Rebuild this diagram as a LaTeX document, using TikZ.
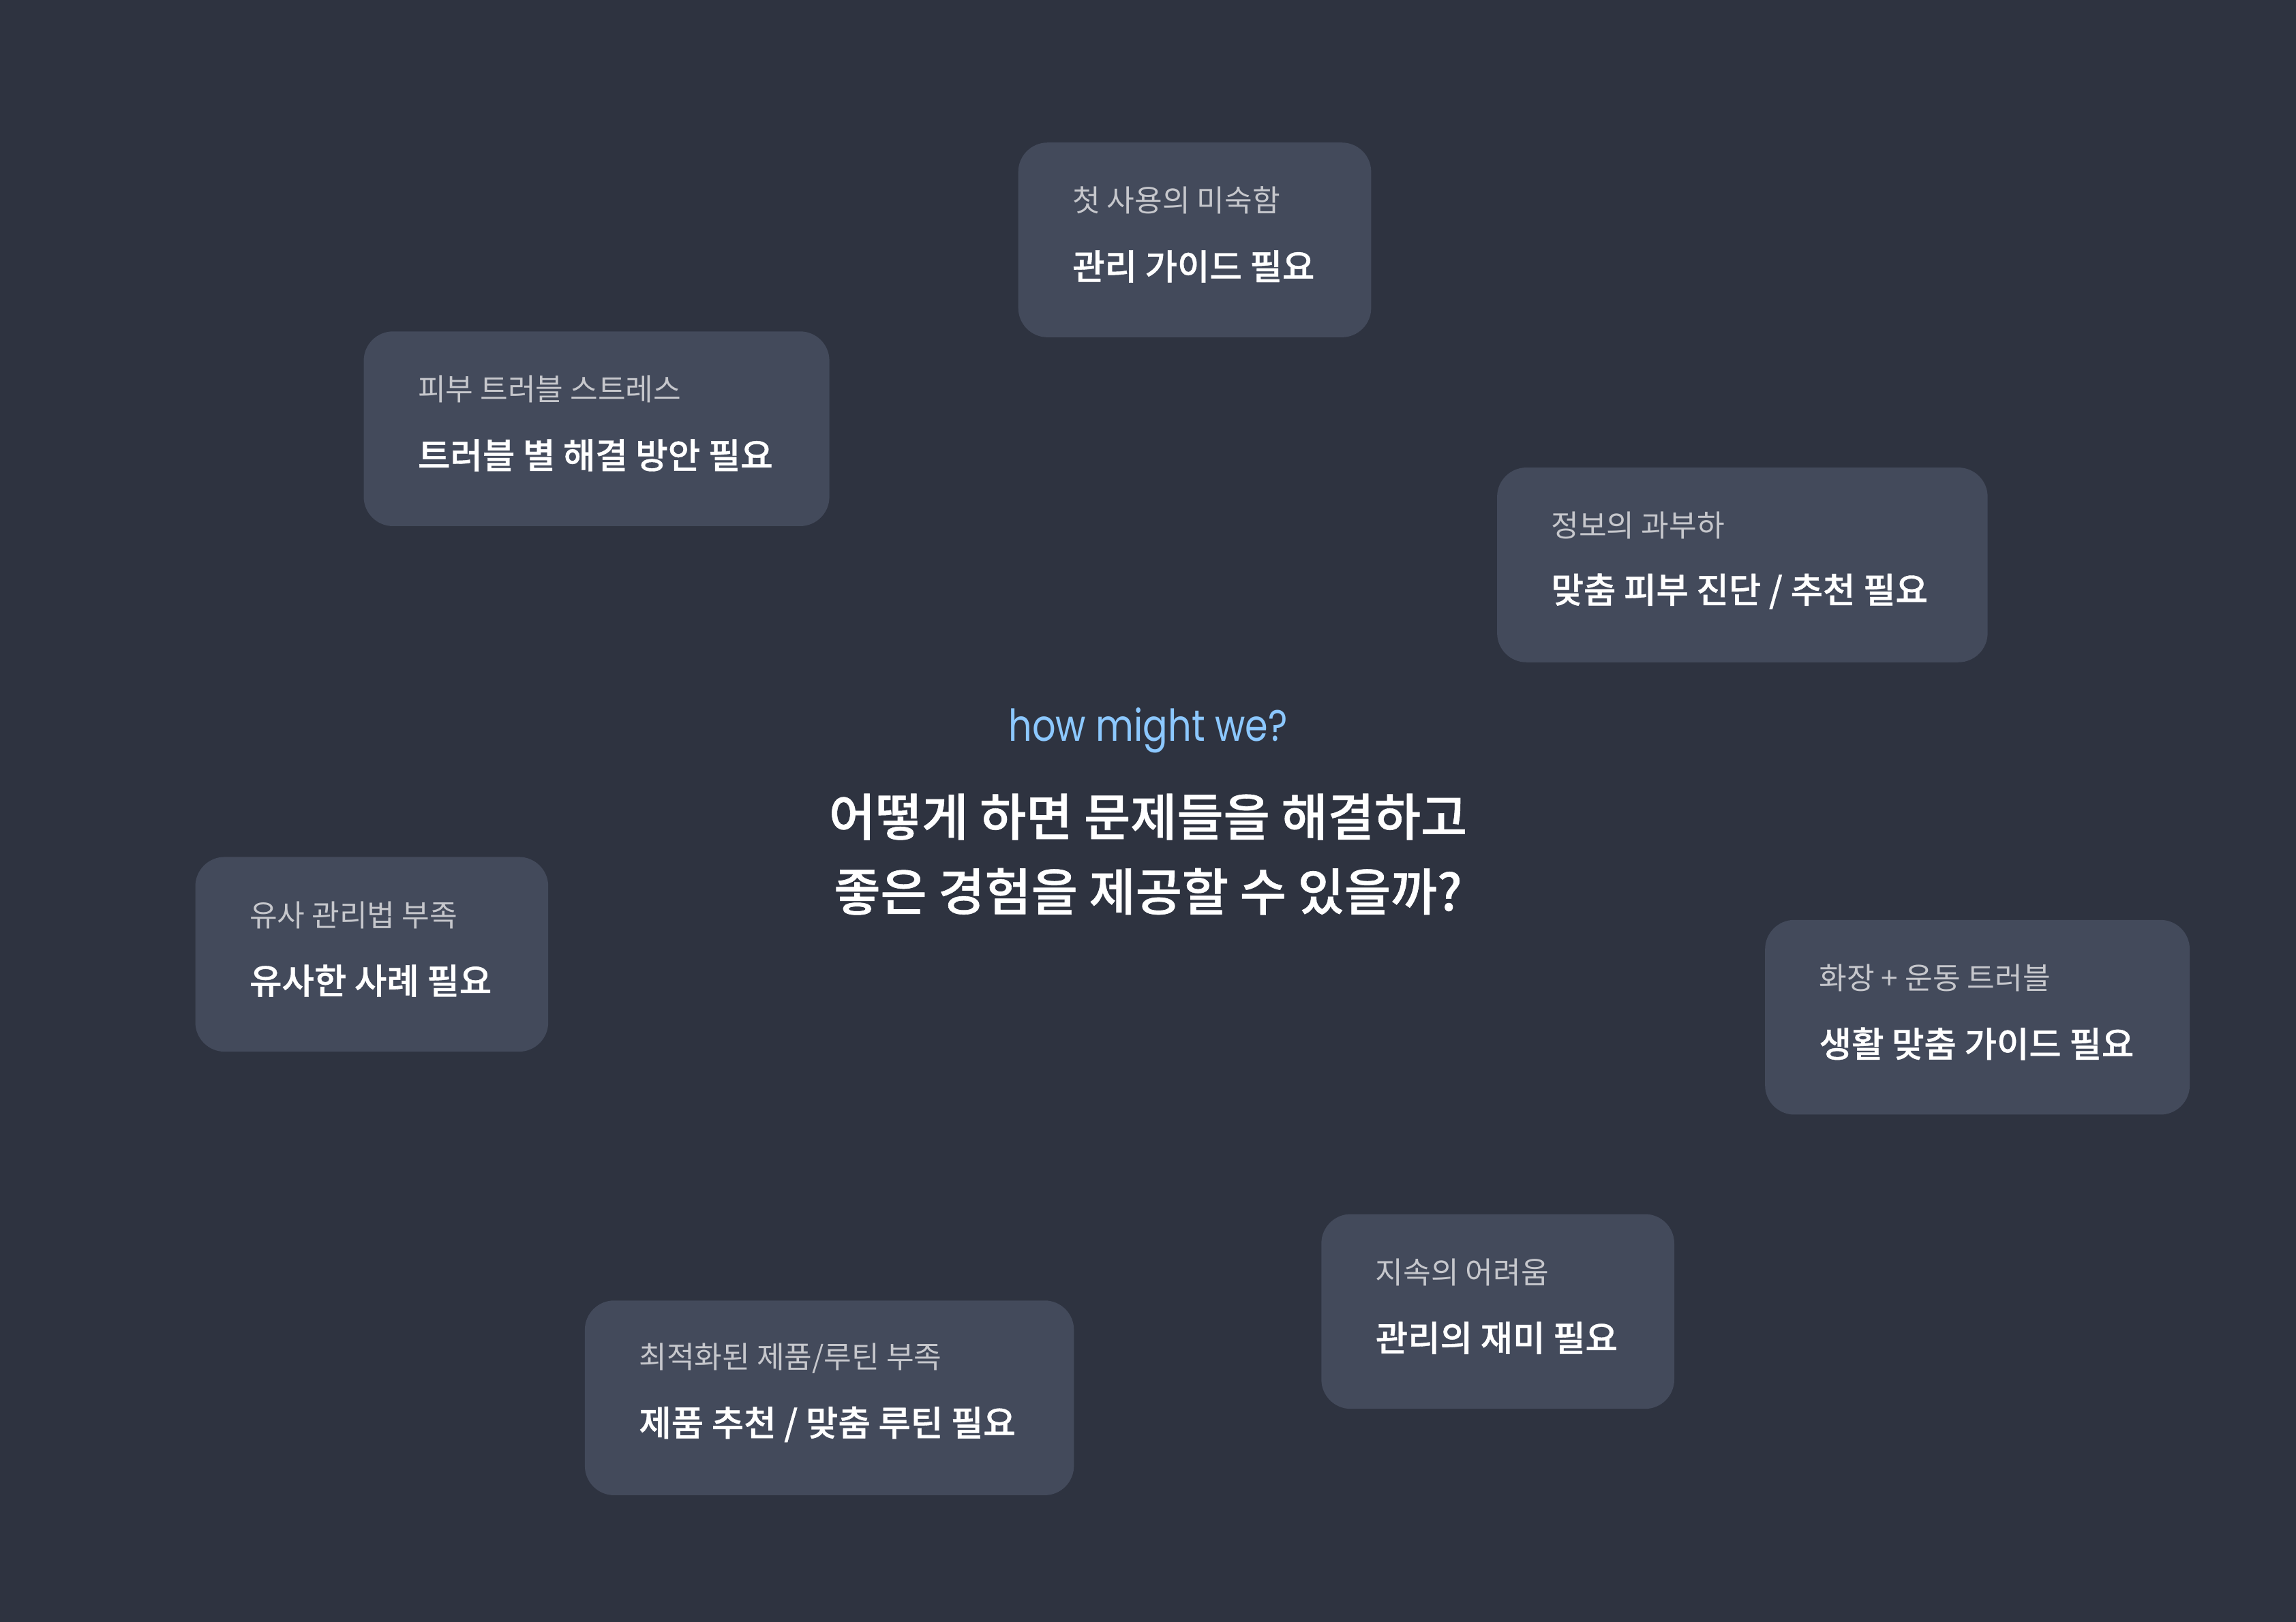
\documentclass[tikz,border=0pt]{standalone}
\usepackage{fontspec}
\setmainfont{Noto Sans CJK KR}
\newfontfamily\krsub{Noto Sans CJK KR}
\newfontfamily\krbold{Noto Sans CJK KR Medium}[FakeBold=0.8]
\newfontfamily\krmain{Noto Sans CJK KR Medium}[FakeBold=0.8]
\newfontfamily\hmwfont{Poppins}[FakeStretch=0.84]
\definecolor{bgc}{RGB}{46,51,64}
\definecolor{cardc}{RGB}{67,74,91}
\definecolor{subc}{RGB}{198,199,204}
\definecolor{hmwc}{RGB}{140,200,255}
\tikzset{
  cardbox/.style={rectangle, fill=cardc, draw=none, rounded corners=10pt,
    minimum height=66.5pt, inner sep=0pt},
  subtxt/.style={text=subc, font=\krsub\fontsize{10.3pt}{12pt}\selectfont, inner sep=0pt},
  boldtxt/.style={text=white, font=\krbold\fontsize{12pt}{14pt}\selectfont, inner sep=0pt},
  maintxt/.style={text=white, font=\krmain\fontsize{17.25pt}{20pt}\selectfont, inner sep=0pt},
  hmwtxt/.style={text=hmwc, font=\hmwfont\fontsize{15pt}{18pt}\selectfont, inner sep=0pt}
}
\newcommand\mycard[6]{%
  \node[cardbox, minimum width=#4*0.5pt, anchor=north west] (#1) at (#2,#3) {};
  \node[subtxt, anchor=west] (#1s) at ([shift={(37,40)}]#1.north west) {#5};
  \node[boldtxt, anchor=west] (#1b) at ([shift={(37,85)}]#1.north west) {#6};
}
\begin{document}
\begin{tikzpicture}[x=0.5pt,y=-0.5pt]
\useasboundingbox (0,0) rectangle (1568,1108);
\fill[bgc] (0,0) rectangle (1568,1108);
\mycard{c1}{695}{97}{241}{첫 사용의 미숙함}{관리 가이드 필요}
\mycard{c2}{248}{226}{318}{피부 트러블 스트레스}{트러블 별 해결 방안 필요}
\mycard{c3}{1022}{319}{335}{정보의 과부하}{맞춤 피부 진단 / 추천 필요}
\mycard{c4}{133}{585}{241}{유사 관리법 부족}{유사한 사례 필요}
\mycard{c5}{1205}{628}{290}{화장 + 운동 트러블}{생활 맞춤 가이드 필요}
\mycard{c6}{902}{829}{241}{지속의 어려움}{관리의 재미 필요}
\mycard{c7}{399}{888}{334}{최적화된 제품/루틴 부족}{제품 추천 / 맞춤 루틴 필요}
\node[hmwtxt] (hmw) at (784,499) {how might we?};
\node[maintxt] (q1) at (784,558) {어떻게 하면 문제들을 해결하고};
\node[maintxt] (q2) at (784,609) {좋은 경험을 제공할 수 있을까?};
\end{tikzpicture}
\end{document}
